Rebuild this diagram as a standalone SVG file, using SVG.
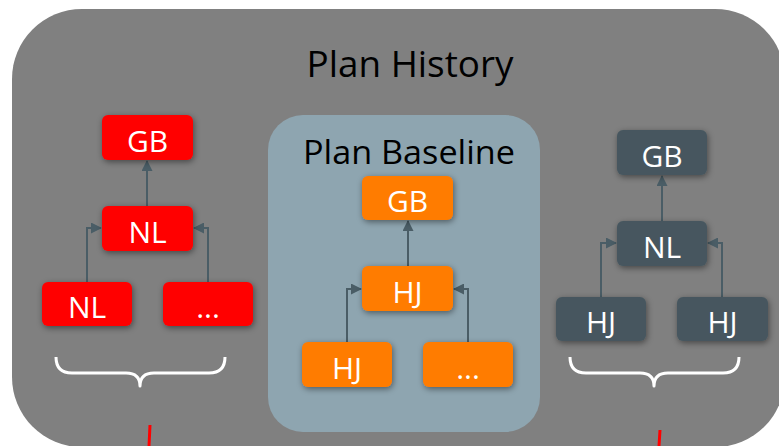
<svg xmlns="http://www.w3.org/2000/svg" width="779" height="446" viewBox="0 0 779 446">
<defs>
<filter id="sh" x="-30%" y="-30%" width="160%" height="160%">
<feDropShadow dx="1" dy="2" stdDeviation="3" flood-color="#000" flood-opacity="0.45"/>
</filter>
<marker id="ah" markerWidth="11" markerHeight="11" refX="10" refY="5.5" orient="auto" markerUnits="userSpaceOnUse">
<path d="M0,0 L11,5.5 L0,11 z" fill="#4a5d66"/>
</marker>
</defs>
<style>
.red{fill:#ff0000;filter:url(#sh)}
.org{fill:#ff7b00;filter:url(#sh)}
.drk{fill:#46575f;filter:url(#sh)}
.nt{fill:#fff;font-family:"Open Sans","Noto Sans",sans-serif;font-size:30px;text-anchor:middle}
.ln{fill:none;stroke:#4a5d66;stroke-width:2;marker-end:url(#ah)}
.br{fill:none;stroke:#fff;stroke-width:3;stroke-linejoin:round}
.rl{stroke:#ff0000;stroke-width:3}
</style>
<rect id="history" x="12" y="9" width="773" height="438" rx="70" fill="#808080"/>
<text x="410" y="77" font-family="'Open Sans','Noto Sans',sans-serif" font-size="36" text-anchor="middle" textLength="207" lengthAdjust="spacingAndGlyphs" fill="#000">Plan History</text>
<g id="baseline">
<rect x="268" y="115" width="272" height="317" rx="35" fill="#8ea5b0"/>
<text x="409" y="164" font-family="'Open Sans','Noto Sans',sans-serif" font-size="32" text-anchor="middle" textLength="212" lengthAdjust="spacingAndGlyphs" fill="#000">Plan Baseline</text>
</g>
<g id="connectors">
<line class="ln" x1="147" y1="206" x2="147" y2="161"/>
<polyline class="ln" points="87,282 87,228 101,228"/>
<polyline class="ln" points="208,282 208,228 194,228"/>
<line class="ln" x1="408" y1="266" x2="408" y2="221"/>
<polyline class="ln" points="347,342 347,289 361,289"/>
<polyline class="ln" points="468,342 468,289 454,289"/>
<line class="ln" x1="662" y1="221" x2="662" y2="176"/>
<polyline class="ln" points="601,297 601,243 616,243"/>
<polyline class="ln" points="722,297 722,243 708,243"/>
</g>
<g id="l-gb"><rect class="red" x="102" y="115" width="91" height="45" rx="6"/><text class="nt" x="147.5" y="152">GB</text></g>
<g id="l-nl"><rect class="red" x="102" y="206" width="91" height="45" rx="6"/><text class="nt" x="147.5" y="243">NL</text></g>
<g id="l-nl2"><rect class="red" x="42" y="282" width="90" height="44" rx="6"/><text class="nt" x="87" y="318">NL</text></g>
<g id="l-dots"><rect class="red" x="163" y="282" width="90" height="44" rx="6"/><text class="nt" x="208" y="318">...</text></g>
<g id="m-gb"><rect class="org" x="362" y="176" width="91" height="44" rx="6"/><text class="nt" x="407.5" y="212">GB</text></g>
<g id="m-hj"><rect class="org" x="362" y="266" width="91" height="45" rx="6"/><text class="nt" x="407.5" y="303">HJ</text></g>
<g id="m-hj2"><rect class="org" x="302" y="342" width="90" height="45" rx="6"/><text class="nt" x="347" y="379">HJ</text></g>
<g id="m-dots"><rect class="org" x="423" y="342" width="90" height="45" rx="6"/><text class="nt" x="468" y="379">...</text></g>
<g id="r-gb"><rect class="drk" x="617" y="130" width="90" height="45" rx="6"/><text class="nt" x="662" y="167">GB</text></g>
<g id="r-nl"><rect class="drk" x="617" y="221" width="90" height="45" rx="6"/><text class="nt" x="662" y="258">NL</text></g>
<g id="r-hj1"><rect class="drk" x="556" y="297" width="90" height="44" rx="6"/><text class="nt" x="601" y="333">HJ</text></g>
<g id="r-hj2"><rect class="drk" x="677" y="297" width="91" height="44" rx="6"/><text class="nt" x="722.5" y="333">HJ</text></g>
<g id="braces">
<path class="br" d="M56,357 Q56,373 72,373 L126,373 Q140,373 140,386 Q140,373 154,373 L209,373 Q225,373 225,357"/>
<path class="br" d="M570,357 Q570,373 586,373 L640,373 Q654,373 654,386 Q654,373 668,373 L723,373 Q739,373 739,357"/>
</g>
<line class="rl" x1="150" y1="425" x2="149" y2="446"/>
<line class="rl" x1="660" y1="430" x2="659" y2="446"/>
</svg>
